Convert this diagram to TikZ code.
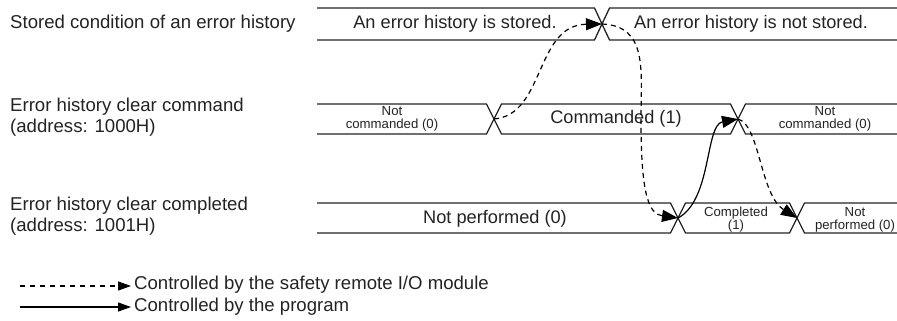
\documentclass[tikz,border=0pt]{standalone}
\usepackage{fontspec}
\setmainfont{Liberation Sans}
\usetikzlibrary{arrows.meta}
\definecolor{ink}{RGB}{35,35,35}
\tikzset{
  wave/.style={draw=ink, line width=1.3pt},
  lbl/.style={anchor=west, inner sep=0pt, text=ink, align=left, font=\fontsize{18.6}{21}\selectfont},
  big/.style={inner sep=0pt, text=ink, font=\fontsize{18.2}{21}\selectfont},
  small/.style={inner sep=0pt, text=ink, align=center, font=\fontsize{13.2}{13}\selectfont},
  ctl/.style={draw=black, line width=1.2pt, dash pattern=on 5pt off 4pt, -{Triangle[length=16pt,width=12pt]}},
  prg/.style={draw=black, line width=1.2pt, -{Triangle[length=16pt,width=12pt]}},
  legtip/.style={-{Triangle[length=13pt,width=9pt]}},
}
\begin{document}
\begin{tikzpicture}[x=1pt,y=-1pt]
\useasboundingbox (0,0) rectangle (897,321);
\def\h{7.5}
% Row 1
\draw[wave] (317,8) -- (602-\h,8) -- (602+\h,40) -- (897,40);
\draw[wave] (317,40) -- (602-\h,40) -- (602+\h,8) -- (897,8);
% Row 2
\draw[wave] (317,104) -- (494-\h,104) -- (494+\h,134) -- (738-\h,134) -- (738+\h,104) -- (897,104);
\draw[wave] (317,134) -- (494-\h,134) -- (494+\h,104) -- (738-\h,104) -- (738+\h,134) -- (897,134);
% Row 3
\draw[wave] (317,203) -- (678-\h,203) -- (678+\h,233) -- (797-\h,233) -- (797+\h,203) -- (897,203);
\draw[wave] (317,233) -- (678-\h,233) -- (678+\h,203) -- (797-\h,203) -- (797+\h,233) -- (897,233);

% crossing points
\coordinate (c1) at (602,24);
\coordinate (c2a) at (494,119);
\coordinate (c2b) at (738,119);
\coordinate (c3a) at (678,218);
\coordinate (c3b) at (797,218);

% left labels
\node[lbl] (l1) at (10,24) {Stored condition of an error history};
\node[lbl] (l2) at (10,117) {Error history clear command\\(address: 1000H)};
\node[lbl] (l3) at (10,216) {Error history clear completed\\(address: 1001H)};

% state texts
\node[big] (s1) at (455,24) {An error history is stored.};
\node[big] (s2) at (751,24) {An error history is not stored.};
\node[small] (t1) at (392,119) {Not\\commanded (0)};
\node[big] (t2) at (616,119) {Commanded (1)};
\node[small] (t3) at (825,119) {Not\\commanded (0)};
\node[big] (u1) at (495,219) {Not performed (0)};
\node[small] (u2) at (736,220) {Completed\\(1)};
\node[small] (u3) at (855,220) {Not\\performed (0)};

% connectors
\draw[ctl] (c2a) .. controls (545,115) and (535,25) .. (c1);
\draw[ctl] (c1) .. controls (648,26) and (641,70) .. (641,120) .. controls (641,192) and (648,214) .. (c3a);
\draw[prg] (c3a) .. controls (712,200) and (705,125) .. (c2b);
\draw[ctl] (c2b) .. controls (760,125) and (760,195) .. (c3b);

% legend
\coordinate (la) at (20,286);
\coordinate (lb) at (131,286);
\coordinate (lc) at (20,307);
\coordinate (ld) at (131,307);
\draw[draw=black, line width=1.1pt, dash pattern=on 5pt off 5pt, legtip] (la) -- (lb);
\draw[draw=black, line width=1.1pt, legtip] (lc) -- (ld);
\node[lbl] (g1) at (134,285) {Controlled by the safety remote I/O module};
\node[lbl] (g2) at (134,307) {Controlled by the program};
\end{tikzpicture}
\end{document}
